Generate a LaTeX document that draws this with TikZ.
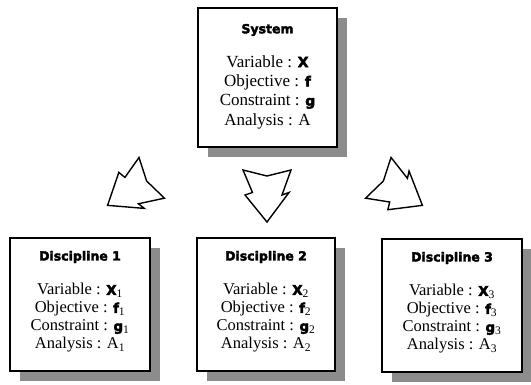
\documentclass[tikz,border=0pt]{standalone}
\usepackage{fontspec}
\setmainfont{Liberation Serif}
\newfontfamily\heavyfont[UprightFont={* Bold}, FakeBold=3]{DejaVu Sans}
\definecolor{shadowgray}{gray}{0.55}
\newcommand\blob[1]{{\heavyfont\fontsize{14}{14}\selectfont #1}}
\newcommand\sblob[2]{{\heavyfont\fontsize{13.5}{14}\selectfont #1}\textsubscript{#2}}
\tikzset{
  zigarrow/.pic={\draw[zig] (-24,0) -- (0,6) -- (24,0) -- (15,25) -- (22,22.5) -- (0,52) -- (-22,25) -- (-14.5,22.5) -- cycle;}
}
\begin{document}
\begin{tikzpicture}[x=1pt,y=-1pt,
  box/.style={draw=black, line width=1.3pt, fill=white, inner sep=0pt,
    preaction={fill=shadowgray, draw=none, transform canvas={xshift=10pt,yshift=-10pt}}},
  ttl/.style={font=\heavyfont\fontsize{12.5}{14}\selectfont, inner sep=0pt},
  body/.style={font=\fontsize{17}{19.3}\selectfont, align=center, inner sep=0pt},
  sbody/.style={font=\fontsize{16.5}{18}\selectfont, align=center, inner sep=0pt},
  zig/.style={draw=black, line width=1.4pt, fill=white, line join=miter}]
\useasboundingbox (0,0) rectangle (531,384);
% system
\node[box, minimum width=139pt, minimum height=139pt] (sys) at (267.5,77.5) {};
\node[ttl] (systitle) at (267.5,30) {System};
\node[body] (sysbody) at (267.5,92) {Variable : \blob{X}\\Objective : \blob{f}\\Constraint : \blob{g}\\Analysis : A};
% disciplines
\node[box, minimum width=140pt, minimum height=133pt] (d1) at (80,304.5) {};
\node[ttl] (d1title) at (80,257) {Discipline 1};
\node[sbody] (d1body) at (80,318) {Variable : \sblob{X}{1}\\Objective : \sblob{f}{1}\\Constraint : \sblob{g}{1}\\Analysis : A\textsubscript{1}};
\node[box, minimum width=138pt, minimum height=133pt] (d2) at (266,304.5) {};
\node[ttl] (d2title) at (266,257) {Discipline 2};
\node[sbody] (d2body) at (266,318) {Variable : \sblob{X}{2}\\Objective : \sblob{f}{2}\\Constraint : \sblob{g}{2}\\Analysis : A\textsubscript{2}};
\node[box, minimum width=140pt, minimum height=133pt] (d3) at (452,305.5) {};
\node[ttl] (d3title) at (452,258) {Discipline 3};
\node[sbody] (d3body) at (452,319) {Variable : \sblob{X}{3}\\Objective : \sblob{f}{3}\\Constraint : \sblob{g}{3}\\Analysis : A\textsubscript{3}};
% arrows
\pic[rotate=-58] (la) at (151.7,177.8) {zigarrow};
\pic (ma) at (267,170) {zigarrow};
\pic[rotate=58] (ra) at (378.3,177.8) {zigarrow};
\end{tikzpicture}
\end{document}
